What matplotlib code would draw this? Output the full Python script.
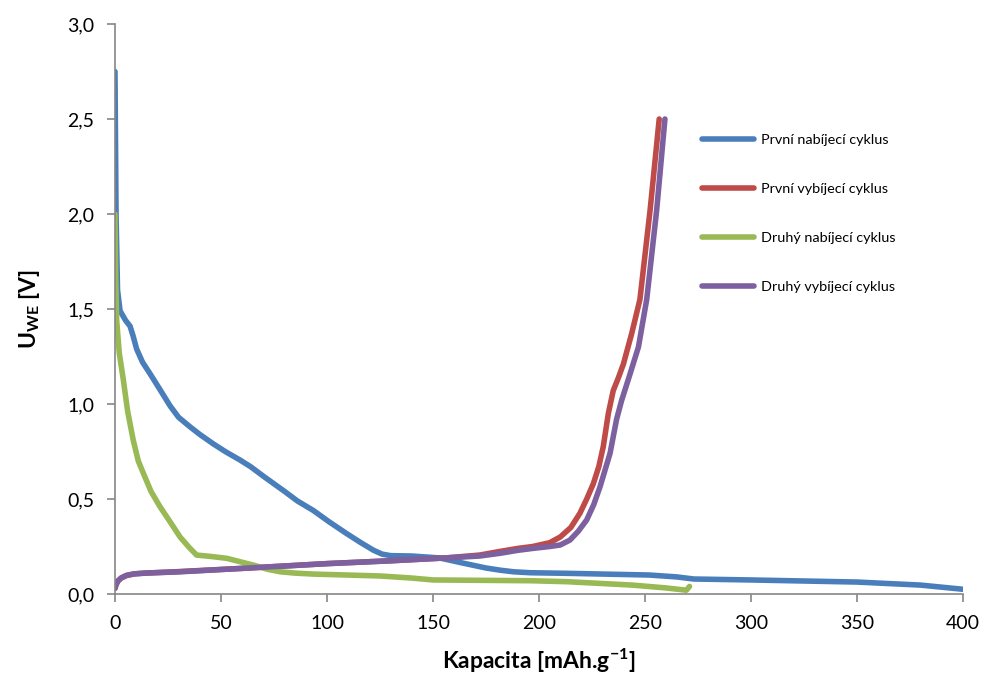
import matplotlib
matplotlib.use('Agg')
from matplotlib import pyplot as plt
from matplotlib.ticker import FuncFormatter

plt.rcParams['font.family'] = ['Lato', 'DejaVu Sans']
plt.rcParams['mathtext.fontset'] = 'custom'
plt.rcParams['mathtext.rm'] = 'Lato:bold'
plt.rcParams['mathtext.it'] = 'Lato:bold'
plt.rcParams['mathtext.bf'] = 'Lato:bold'

# data
labels = ['První nabíjecí cyklus', 'První vybíjecí cyklus',
          'Druhý nabíjecí cyklus', 'Druhý vybíjecí cyklus']
colors = ['#4A7EBB', '#BE4B48', '#98B954', '#7D60A0']

charge1_x = [0, 0.5, 1.2, 2.4, 5, 7.1, 8.5, 10.2, 13, 16.5, 21, 26, 30, 35.4,
             40, 46.4, 52, 59, 64, 70, 75, 80, 86, 93.5, 101, 109, 116, 122,
             126, 130, 140, 153, 164, 175, 182, 188, 196, 213, 252, 265, 273,
             300, 350, 380, 400]
charge1_y = [2.75, 2.0, 1.6, 1.49, 1.44, 1.41, 1.36, 1.29, 1.22, 1.16, 1.08,
             0.99, 0.93, 0.88, 0.84, 0.79, 0.75, 0.705, 0.67, 0.62, 0.58, 0.54,
             0.49, 0.44, 0.38, 0.32, 0.27, 0.23, 0.21, 0.202, 0.2, 0.19, 0.163,
             0.137, 0.125, 0.117, 0.112, 0.109, 0.1, 0.09, 0.079, 0.074, 0.063,
             0.047, 0.025]

discharge1_x = [0, 0.5, 1.5, 3, 5.5, 9, 14, 30, 60, 100, 130, 156, 172, 182,
                190, 197, 205, 210, 215, 219.3, 222.5, 225.6, 228.2, 230.3,
                232.7, 235, 237.5, 239.8, 243.7, 247.6, 252.4, 256.7]
discharge1_y = [0.03, 0.05, 0.07, 0.085, 0.098, 0.106, 0.11, 0.118, 0.135,
                0.16, 0.175, 0.19, 0.205, 0.225, 0.24, 0.25, 0.27, 0.3, 0.35,
                0.425, 0.5, 0.58, 0.67, 0.775, 0.95, 1.07, 1.14, 1.21, 1.37,
                1.55, 2.02, 2.5]

charge2_x = [0, 0.3, 0.8, 2, 3.9, 6, 8.6, 11, 13.4, 17, 21.2, 26, 30.7, 35,
             38.5, 45, 52.7, 59, 66, 72, 78, 85, 93.5, 125, 140, 150, 196, 213,
             244, 260, 269.5, 271]
charge2_y = [2.0, 1.7, 1.44, 1.27, 1.13, 0.96, 0.81, 0.7, 0.635, 0.54, 0.46,
             0.38, 0.3, 0.245, 0.205, 0.198, 0.188, 0.17, 0.15, 0.13, 0.117,
             0.11, 0.105, 0.095, 0.084, 0.074, 0.07, 0.065, 0.047, 0.032, 0.02,
             0.04]

discharge2_x = [0, 0.5, 1.5, 3, 5.5, 9, 14, 30.7, 60, 100, 130, 156, 172, 182,
                190, 197, 205, 210, 214.6, 218.5, 222.5, 225.8, 228.8, 233.5,
                236.6, 239, 243, 246.9, 250.8, 255.5, 259.4]
discharge2_y = [0.03, 0.05, 0.07, 0.085, 0.098, 0.106, 0.11, 0.117, 0.135, 0.16,
                0.175, 0.19, 0.2, 0.215, 0.23, 0.24, 0.25, 0.258, 0.284, 0.33,
                0.39, 0.47, 0.565, 0.74, 0.92, 1.02, 1.16, 1.3, 1.55, 2.02, 2.5]

xs = [charge1_x, discharge1_x, charge2_x, discharge2_x]
ys = [charge1_y, discharge1_y, charge2_y, discharge2_y]

fig = plt.figure(figsize=(9.87, 6.82), dpi=100)
ax = fig.add_axes([0.1165, 0.129, 0.8592, 0.8358])

for x, y, c, lab in zip(xs, ys, colors, labels):
    ax.plot(x, y, color=c, lw=4.0, label=lab, solid_capstyle='round',
            solid_joinstyle='round')

ax.set_xlim(0, 400)
ax.set_ylim(0, 3.0)
ax.set_xticks(range(0, 401, 50))
ax.set_yticks([0, 0.5, 1.0, 1.5, 2.0, 2.5, 3.0])
ax.yaxis.set_major_formatter(FuncFormatter(lambda v, p: ('%.1f' % v).replace('.', ',')))

for s in ['top', 'right']:
    ax.spines[s].set_visible(False)
for s in ['left', 'bottom']:
    ax.spines[s].set_color('#868686')
    ax.spines[s].set_linewidth(1.2)
ax.tick_params(direction='out', length=6, width=1.2, color='#868686',
               labelsize=14, pad=9)

ax.set_xlabel('Kapacita [mAh.g$^{\\mathrm{-1}}$]', fontsize=16.5, fontweight='bold',
              labelpad=11)
ax.set_ylabel('U$_{\\mathrm{WE}}$ [V]', fontsize=16.5, fontweight='bold', labelpad=18)

ax.legend(loc='upper left', bbox_to_anchor=(0.677, 0.83), frameon=False,
          fontsize=10.4, handlelength=3.6, labelspacing=2.55, handletextpad=0.5)

plt.savefig('out.png')
